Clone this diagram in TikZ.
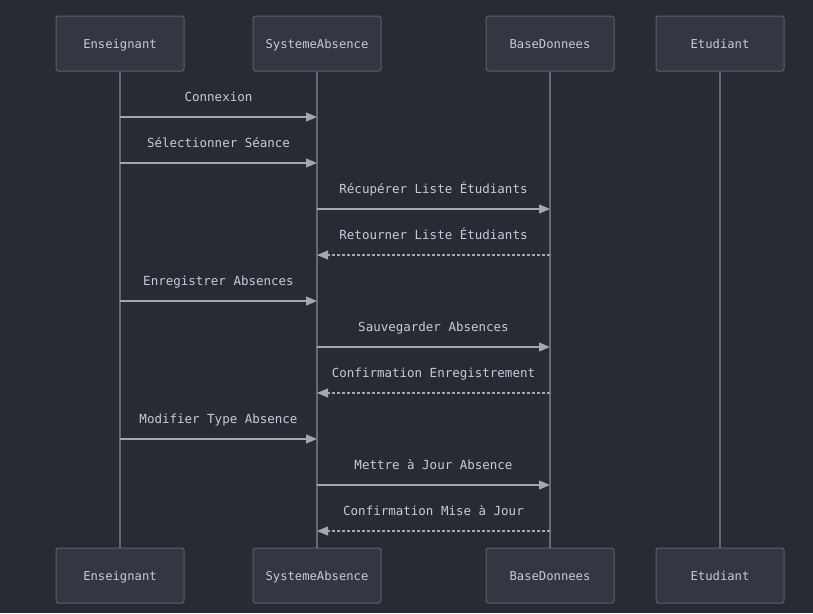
\documentclass[tikz,border=0pt]{standalone}
\usepackage{fontspec}
\setmonofont{DejaVu Sans Mono}
\usetikzlibrary{arrows.meta}
\definecolor{bg}{HTML}{282B33}
\definecolor{boxfill}{HTML}{343741}
\definecolor{boxdraw}{HTML}{5B5F6C}
\definecolor{life}{HTML}{646978}
\definecolor{msg}{HTML}{A3A7B1}
\definecolor{txt}{HTML}{C3CCDA}
\tikzset{
  actor/.style={draw=boxdraw, fill=boxfill, line width=1pt, rounded corners=2.5pt,
    minimum width=128pt, minimum height=55pt, inner sep=0pt,
    text height=11pt, text depth=1pt,
    text=txt, font=\ttfamily\fontsize{12.2pt}{14pt}\selectfont},
  lifeline/.style={draw=life, line width=1.4pt},
  call/.style={draw=msg, line width=1.2pt, -{Triangle[length=11pt,width=9pt]}},
  reply/.style={call, dash pattern=on 3pt off 2pt},
  lbl/.style={text=txt, font=\ttfamily\fontsize{12.5pt}{14pt}\selectfont, inner sep=0pt,
    text height=9.5pt, text depth=3pt}
}
\begin{document}
\begin{tikzpicture}[x=1pt,y=-1pt]
\fill[bg] (0,0) rectangle (813,613);
\useasboundingbox (0,0) rectangle (813,613);
% actors
\node[actor] (e1) at (120,43.5) {Enseignant};
\node[actor] (s1) at (317,43.5) {SystemeAbsence};
\node[actor] (b1) at (550,43.5) {BaseDonnees};
\node[actor] (t1) at (720,43.5) {Etudiant};
\node[actor] (e2) at (120,575.5) {Enseignant};
\node[actor] (s2) at (317,575.5) {SystemeAbsence};
\node[actor] (b2) at (550,575.5) {BaseDonnees};
\node[actor] (t2) at (720,575.5) {Etudiant};
% lifelines
\draw[lifeline] (e1.south) -- (e2.north);
\draw[lifeline] (s1.south) -- (s2.north);
\draw[lifeline] (b1.south) -- (b2.north);
\draw[lifeline] (t1.south) -- (t2.north);
% message anchors
\foreach \n/\y in {1/117,2/163,3/209,4/255,5/301,6/347,7/393,8/439,9/485,10/531}{
  \coordinate (e\n) at (120,\y);
  \coordinate (s\n) at (317,\y);
  \coordinate (b\n) at (550,\y);
}
\draw[call] (e1) -- (s1) node[lbl, midway, yshift=19pt] {Connexion};
\draw[call] (e2) -- (s2) node[lbl, midway, yshift=19pt] {Sélectionner Séance};
\draw[call] (s3) -- (b3) node[lbl, midway, yshift=19pt] {Récupérer Liste Étudiants};
\draw[reply] (b4) -- (s4) node[lbl, midway, yshift=19pt] {Retourner Liste Étudiants};
\draw[call] (e5) -- (s5) node[lbl, midway, yshift=19pt] {Enregistrer Absences};
\draw[call] (s6) -- (b6) node[lbl, midway, yshift=19pt] {Sauvegarder Absences};
\draw[reply] (b7) -- (s7) node[lbl, midway, yshift=19pt] {Confirmation Enregistrement};
\draw[call] (e8) -- (s8) node[lbl, midway, yshift=19pt] {Modifier Type Absence};
\draw[call] (s9) -- (b9) node[lbl, midway, yshift=19pt] {Mettre à Jour Absence};
\draw[reply] (b10) -- (s10) node[lbl, midway, yshift=19pt] {Confirmation Mise à Jour};
\end{tikzpicture}
\end{document}
